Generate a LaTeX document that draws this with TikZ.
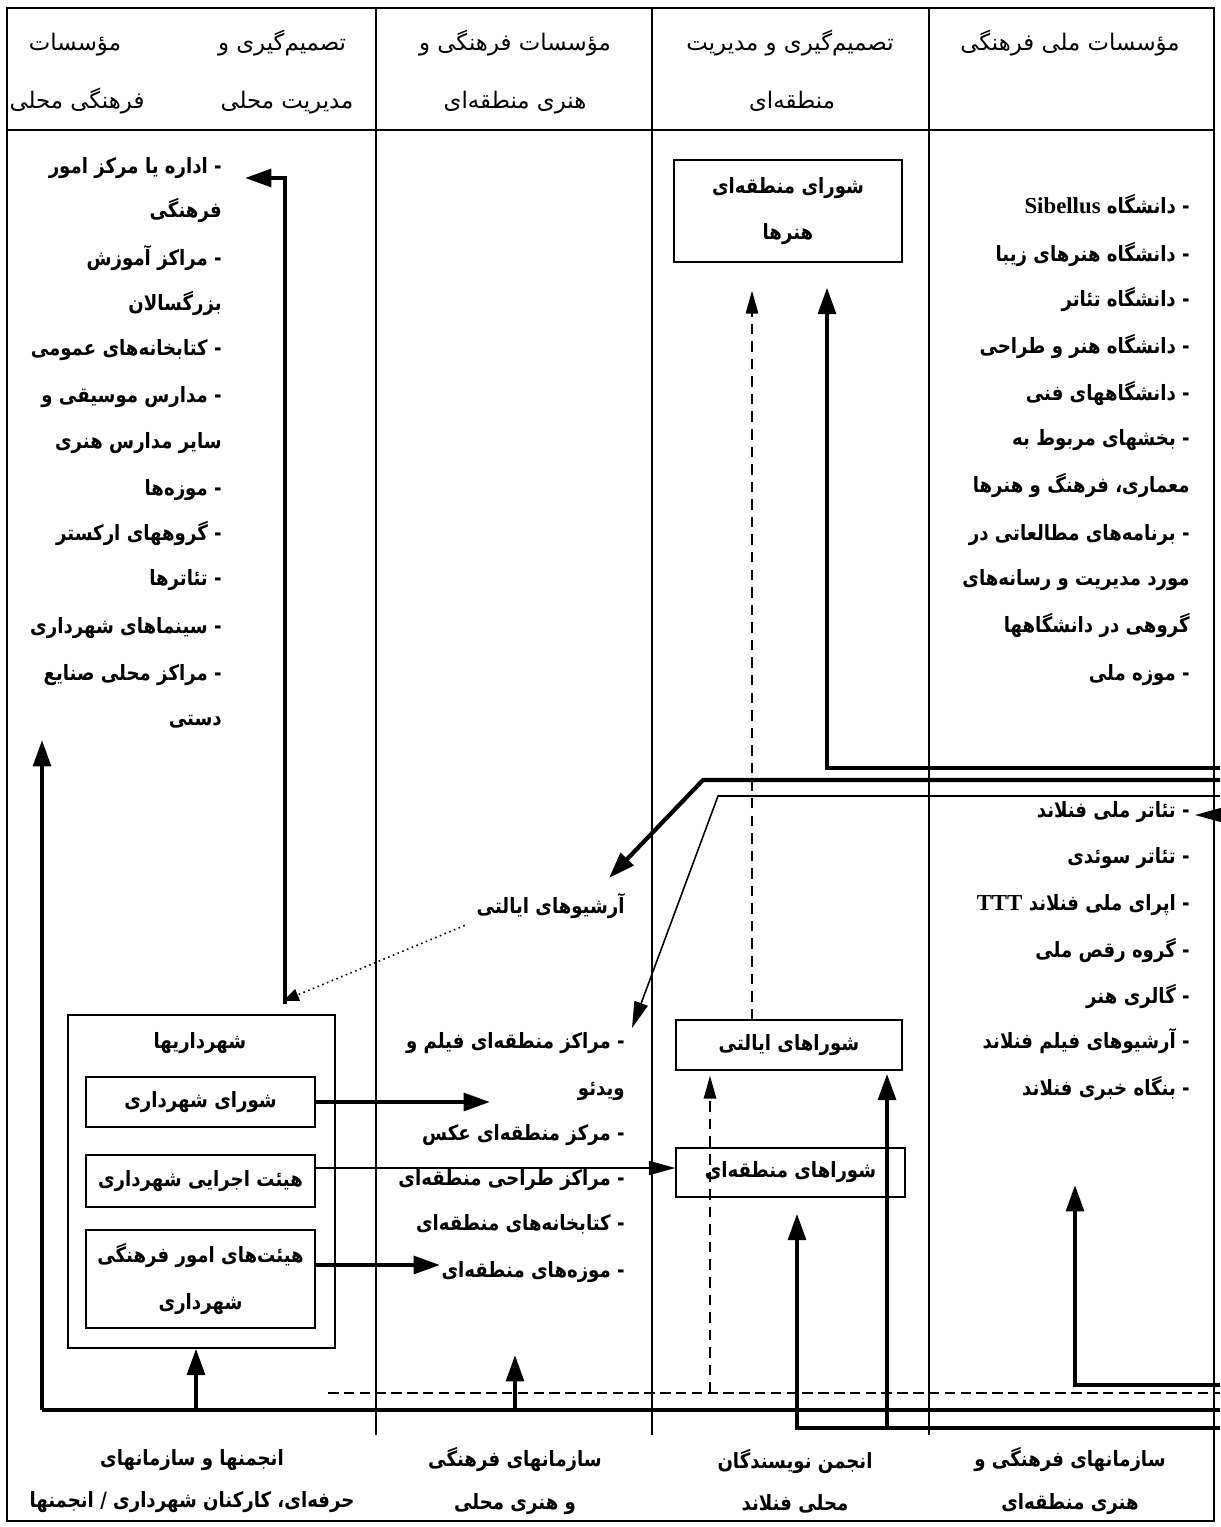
\documentclass[tikz,border=0pt]{standalone}
\usepackage{fontspec}
\usetikzlibrary{arrows.meta,calc}
\TeXXeTstate=1
\newfontfamily\arabicfont[Script=Arabic]{DejaVu Sans}
\newfontfamily\arabicnar[Script=Arabic,FakeStretch=0.86]{DejaVu Sans}
\newfontfamily\latinfont{Liberation Serif}
\newcommand\RL[1]{\beginR #1\endR}
\newcommand\LT[1]{\beginL{\latinfont\bfseries\fontsize{13}{14}\selectfont #1}\endL{}}
\tikzset{
  lst/.style={anchor=east, inner sep=0pt, font=\arabicnar\bfseries\fontsize{12}{14}\selectfont, text height=10pt, text depth=4pt},
  hdr/.style={inner sep=0pt, font=\arabicfont\fontsize{13}{15}\selectfont, text height=10pt, text depth=4pt},
  lbl/.style={inner sep=0pt, align=center, font=\arabicnar\bfseries\fontsize{12}{24}\selectfont},
  box/.style={draw, line width=0.8pt, inner sep=2pt, align=center, font=\arabicnar\bfseries\fontsize{12}{26.5}\selectfont},
  frame/.style={line width=1.1pt},
  thickln/.style={line width=2.4pt},
  thickarr/.style={line width=2.4pt, -{Triangle[length=15pt,width=10pt]}},
  thinarr/.style={line width=0.9pt, -{Triangle[length=15pt,width=8pt]}},
  dasharr/.style={line width=1.1pt, dash pattern=on 6pt off 4pt, -{Triangle[length=13pt,width=7pt]}},
  dotarr/.style={line width=0.9pt, dotted, -{Triangle[length=9pt,width=7pt]}},
}
\begin{document}
\begin{tikzpicture}[x=0.02cm,y=-0.02cm]
\useasboundingbox (0,0) rectangle (1220,1527);
\fill[white] (0,0) rectangle (1220,1527);
% frame and columns
\draw[frame] (7,8) rectangle (1214,1521);
\draw[frame] (7,130) -- (1214,130);
\foreach \cx in {376,652,929} \draw[line width=0.9pt] (\cx,8) -- (\cx,1435);

% header texts
\node[hdr] (h1a) at (282,45) {\RL{تصمیم‌گیری و}};
\node[hdr] (h1b) at (287,103) {\RL{مدیریت محلی}};
\node[hdr] (h1c) at (75,45) {\RL{مؤسسات}};
\node[hdr] (h1d) at (77,103) {\RL{فرهنگی محلی}};
\node[hdr] (h2a) at (515,45) {\RL{مؤسسات فرهنگی و}};
\node[hdr] (h2b) at (515,103) {\RL{هنری منطقه‌ای}};
\node[hdr] (h3a) at (790,45) {\RL{تصمیم‌گیری و مدیریت}};
\node[hdr] (h3b) at (792,103) {\RL{منطقه‌ای}};
\node[hdr] (h4a) at (1070,45) {\RL{مؤسسات ملی فرهنگی}};

% column 1 list
\foreach \y/\t [count=\i] in {168/{- اداره یا مرکز امور}, 212/{فرهنگی}, 260/{- مراکز آموزش}, 305/{بزرگسالان}, 350/{- کتابخانه‌های عمومی}, 397/{- مدارس موسیقی و}, 443/{سایر مدارس هنری}, 490/{- موزه‌ها}, 535/{- گروههای ارکستر}, 580/{- تئاترها}, 628/{- سینماهای شهرداری}, 675/{- مراکز محلی صنایع}, 720/{دستی}}
  \node[lst] (a\i) at (222,\y) {\RL{\t}};

% column 4 upper list
\foreach \y/\t [count=\i] in {208/{- دانشگاه \LT{Sibellus}}, 256/{- دانشگاه هنرهای زیبا}, 301/{- دانشگاه تئاتر}, 348/{- دانشگاه هنر و طراحی}, 395/{- دانشگاههای فنی}, 440/{- بخشهای مربوط به}, 487/{معماری، فرهنگ و هنرها}, 535/{- برنامه‌های مطالعاتی در}, 580/{مورد مدیریت و رسانه‌های}, 627/{گروهی در دانشگاهها}, 675/{- موزه ملی}}
  \node[lst] (u\i) at (1190,\y) {\RL{\t}};

% column 4 lower list
\foreach \y/\t [count=\i] in {812/{- تئاتر ملی فنلاند}, 858/{- تئاتر سوئدی}, 905/{- اپرای ملی فنلاند \LT{TTT}}, 952/{- گروه رقص ملی}, 998/{- گالری هنر}, 1043/{- آرشیوهای فیلم فنلاند}, 1090/{- بنگاه خبری فنلاند}}
  \node[lst] (n\i) at (1190,\y) {\RL{\t}};

% column 2 list
\foreach \y/\t [count=\i] in {1043/{- مراکز منطقه‌ای فیلم و}, 1090/{ویدئو}, 1135/{- مرکز منطقه‌ای عکس}, 1180/{- مراکز طراحی منطقه‌ای}, 1225/{- کتابخانه‌های منطقه‌ای}, 1272/{- موزه‌های منطقه‌ای}}
  \node[lst] (r\i) at (625,\y) {\RL{\t}};

\node[lst] (arch) at (625,908) {\RL{آرشیوهای ایالتی}};

% boxes
\node[box, minimum width=4.56cm, minimum height=2.04cm] (arts) at (788,211) {\RL{شورای منطقه‌ای}\\\RL{هنرها}};
\node[box, minimum width=4.52cm, minimum height=1cm] (prov) at (789,1045) {\RL{شوراهای ایالتی}};
\node[box, minimum width=4.58cm, minimum height=0.98cm] (regc) at (790.5,1172.5) {\RL{شوراهای منطقه‌ای}};
\node[draw, line width=0.8pt, minimum width=5.34cm, minimum height=6.66cm] (muni) at (201.5,1181.5) {};
\node[lst, anchor=center] (munit) at (200,1043) {\RL{شهرداریها}};
\node[box, minimum width=4.58cm, minimum height=1cm] (council) at (200.5,1102) {\RL{شورای شهرداری}};
\node[box, minimum width=4.58cm, minimum height=1.04cm] (exec) at (200.5,1181) {\RL{هیئت اجرایی شهرداری}};
\node[box, minimum width=4.58cm, minimum height=1.96cm] (cult) at (200.5,1279) {\RL{هیئت‌های امور فرهنگی}\\\RL{شهرداری}};

% bottom labels
\node[lbl] (b1) at (192,1481) {\RL{انجمنها و سازمانهای}\\\RL{حرفه‌ای، کارکنان شهرداری / انجمنها}};
\node[lbl] (b2) at (515,1481) {\RL{سازمانهای فرهنگی}\\\RL{و هنری محلی}};
\node[lbl] (b3) at (795,1481) {\RL{انجمن نویسندگان}\\\RL{محلی فنلاند}};
\node[lbl] (b4) at (1070,1481) {\RL{سازمانهای فرهنگی و}\\\RL{هنری منطقه‌ای}};

% coordinates for free ends
\coordinate (R768) at (1220,768);
\coordinate (R780) at (1220,780);
\coordinate (R796) at (1220,796);
\coordinate (R815) at (1220,815);
\coordinate (R1385) at (1220,1385);
\coordinate (R1393) at (1220,1393);
\coordinate (R1410) at (1220,1410);
\coordinate (R1428) at (1220,1428);
\coordinate (k827) at (827,768);
\coordinate (k703) at (703,780);
\coordinate (k718) at (718,796);
\coordinate (tArch) at (609,878);
\coordinate (tFilm) at (632,1028);
\coordinate (t815) at (1195,815);
\coordinate (k1075) at (1075,1385);
\coordinate (t1075) at (1075,1185);
\coordinate (k42) at (42,1410);
\coordinate (t42) at (42,740);
\coordinate (k196) at (196,1410);
\coordinate (k515) at (515,1410);
\coordinate (t515) at (515,1355);
\coordinate (k797) at (797,1428);
\coordinate (k887) at (887,1428);
\coordinate (L1393) at (328,1393);
\coordinate (k710) at (710,1393);
\coordinate (x752) at (752,0);
\coordinate (top285) at (285,178);
\coordinate (t245) at (245,178);
\coordinate (tDot) at (283,1001);
\coordinate (tCouncil) at (490,1102);
\coordinate (tCult) at (440,1265);
\coordinate (eExec) at ($(exec.east)+(0,-13)$);
\coordinate (eCult) at ($(cult.east)+(0,-14)$);

% connectors
\draw[thickarr, shorten >=0.5cm] (R768) -- (k827) -- (k827 |- arts.south);
\draw[thickarr] (R780) -- (k703) -- (tArch);
\draw[thinarr] (R796) -- (k718) -- (tFilm);
\draw[thinarr] (R815) -- (t815);
\draw[dasharr, shorten >=0.56cm] (prov.north -| x752) -- (arts.south -| x752);
\draw[line width=1.1pt, dash pattern=on 6pt off 3pt] (L1393) -- (R1393);
\draw[dasharr, shorten >=0.1cm] (k710) -- (prov.south -| k710);
\draw[thickln] (k42) -- (R1410);
\draw[thickarr] (k42) -- (t42);
\draw[thickarr] (k196) -- (muni.south -| k196);
\draw[thickarr] (k515) -- (t515);
\draw[thickarr, shorten >=0.32cm] (R1428) -- (k797) -- (regc.south -| k797);
\draw[thickarr, shorten >=0.06cm] (k887) -- (prov.south -| k887);
\draw[thickarr] (R1385) -- (k1075) -- (t1075);
\draw[thickarr, shorten <=0.2cm] (muni.north -| top285) -- (top285) -- (t245);
\draw[dotarr, shorten <=0.25cm] (arch.south west) -- (tDot);
\draw[thickarr] (council.east) -- (tCouncil);
\draw[thinarr] (eExec) -- (eExec -| regc.west);
\draw[thickarr] (eCult) -- (tCult);
\end{tikzpicture}
\end{document}
